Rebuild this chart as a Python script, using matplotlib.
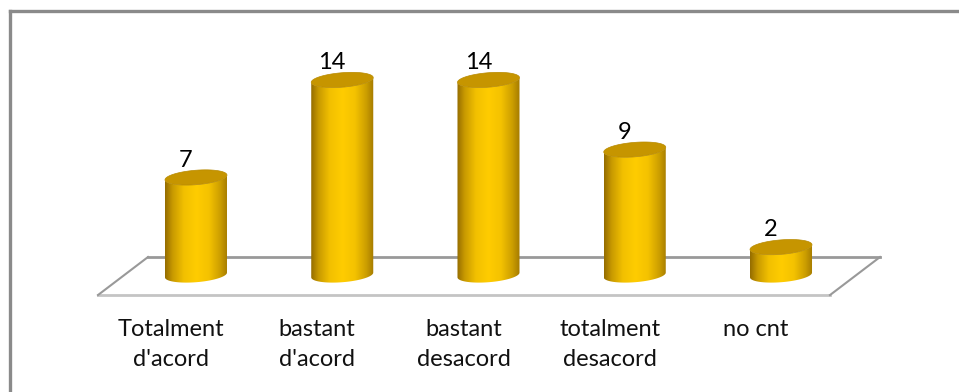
import numpy as np
import matplotlib
matplotlib.use("Agg")
import matplotlib.pyplot as plt
from matplotlib.path import Path
from matplotlib.patches import PathPatch, Polygon
from matplotlib.colors import LinearSegmentedColormap
from matplotlib.lines import Line2D

# survey answers
categories = ["Totalment\nd'acord", "bastant\nd'acord", "bastant\ndesacord",
              "totalment\ndesacord", "no cnt"]
counts = [7, 14, 14, 9, 2]

plt.rcParams['font.family'] = ['Lato', 'DejaVu Sans']

fig = plt.figure(figsize=(9.59, 3.92), dpi=100)
ax = fig.add_axes([0, 0, 1, 1])
ax.set_xlim(-1.340, 5.217)
ax.set_ylim(-8.40, 19.74)
ax.axis('off')

# outer chart border (only top and left fall inside the image)
fig.add_artist(Line2D([0.0109, 0.0109], [0, 0.973], color='#8a8a8a', lw=2.4,
                      transform=fig.transFigure))
fig.add_artist(Line2D([0.0109, 1.0], [0.973, 0.973], color='#8a8a8a', lw=2.4,
                      transform=fig.transFigure))

# 3d floor
floor = [(-0.328, 1.29), (4.677, 1.29), (4.335, -1.44), (-0.670, -1.44)]
ax.add_patch(Polygon(floor, closed=True, facecolor='white', edgecolor='none', zorder=1))
ax.plot([-0.328, 4.677], [1.29, 1.29], color='#999999', lw=2, zorder=2)
ax.plot([-0.670, 4.335], [-1.44, -1.44], color='#c4c4c4', lw=2, zorder=2)
ax.plot([-0.670, -0.328], [-1.44, 1.29], color='#999999', lw=1.5, zorder=2)
ax.plot([4.335, 4.677], [-1.44, 1.29], color='#999999', lw=1.5, zorder=2)

half_w = 0.212   # cylinder radius along x
ry = 0.52        # ellipse half height along y
shear = 0.8      # ellipses slightly tilted
base = 0.0

cmap = LinearSegmentedColormap.from_list('gold', [
    (0.0, '#946c00'), (0.12, '#c89a00'), (0.3, '#f2c000'),
    (0.5, '#ffcc00'), (0.7, '#f4c200'), (0.88, '#cc9e00'), (1.0, '#a47a00')])
grad = cmap(np.linspace(0, 1, 256))[np.newaxis, :, :3]


def arc(cx, cy, t0, t1, n=60):
    t = np.linspace(t0, t1, n)
    dx = half_w * np.cos(t)
    return np.column_stack([cx + dx, cy + ry * np.sin(t) + shear * dx])


for i, v in enumerate(counts):
    cx = i
    top = base + v
    # body: lower half of the bottom ellipse, then lower half of the top ellipse back
    bottom_arc = arc(cx, base, np.pi, 2 * np.pi)
    top_arc = arc(cx, top, 2 * np.pi, np.pi)
    verts = np.vstack([bottom_arc, top_arc, bottom_arc[:1]])
    body = PathPatch(Path(verts), facecolor='none', edgecolor='none', zorder=3)
    ax.add_patch(body)
    im = ax.imshow(grad, extent=[cx - half_w, cx + half_w, base - 2, top + 2],
                   aspect='auto', zorder=3, interpolation='bilinear')
    im.set_clip_path(body)
    # top face
    ax.add_patch(Polygon(arc(cx, top, 0, 2 * np.pi), closed=True,
                         facecolor='#c69500', edgecolor='#b88a00', lw=0.5, zorder=4))
    ax.text(cx - 0.07, top + ry + 0.25, str(v), ha='center', va='baseline',
            fontsize=17, color='black', zorder=5)

# category names, one text per line
for i, lab in enumerate(categories):
    for k, line in enumerate(lab.split('\n')):
        ax.text(i - 0.171, -4.38 - 2.15 * k, line, ha='center', va='baseline',
                fontsize=17, color='#111111')

ax.set_xlim(-1.340, 5.217)
ax.set_ylim(-8.40, 19.74)
fig.savefig('out.png', dpi=100)
